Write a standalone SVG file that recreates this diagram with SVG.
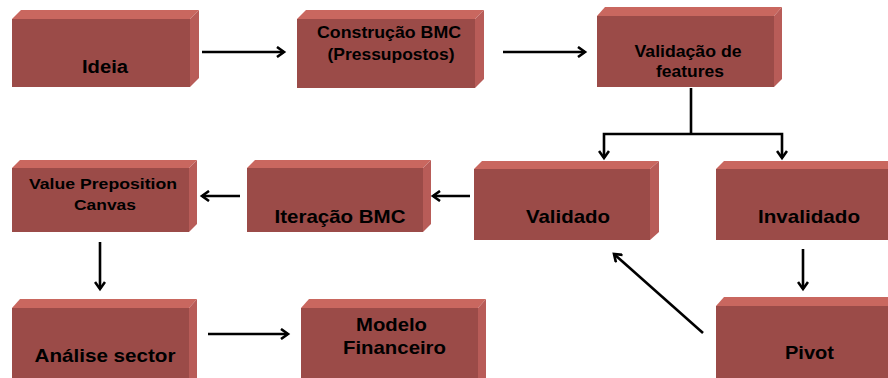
<svg xmlns="http://www.w3.org/2000/svg" width="888" height="378" viewBox="0 0 888 378">
<defs>
<style>
.front{fill:#9b4b48}
.top{fill:#c9675f}
.side{fill:#b85c58}
.t{font-family:"Liberation Sans",Arial,sans-serif;font-weight:bold;fill:#000;text-anchor:middle}
.c{fill:none;stroke:#000;stroke-width:2.6}
</style>
<marker id="ah" markerWidth="12" markerHeight="12" refX="9" refY="6" orient="auto" markerUnits="userSpaceOnUse">
<path d="M2,1 L9,6 L2,11" fill="none" stroke="#000" stroke-width="2.6"/>
</marker>
</defs>
<rect width="888" height="378" fill="#fff"/>

<g id="ideia">
<rect class="front" x="12" y="19" width="178" height="68"/>
<polygon class="top" points="12,19 21,10 199,10 190,19"/>
<polygon class="side" points="190,19 199,10 199,78 190,87"/>
<text class="t" x="105" y="73" font-size="18" textLength="46" lengthAdjust="spacingAndGlyphs">Ideia</text>
</g>

<g id="construcao">
<rect class="front" x="297" y="19" width="178" height="69"/>
<polygon class="top" points="297,19 306,10 484,10 475,19"/>
<polygon class="side" points="475,19 484,10 484,79 475,88"/>
<text class="t" x="389" y="38" font-size="16.5" textLength="144" lengthAdjust="spacingAndGlyphs">Construção BMC</text>
<text class="t" x="391" y="60" font-size="16.5" textLength="127" lengthAdjust="spacingAndGlyphs">(Pressupostos)</text>
</g>

<g id="validacao">
<rect class="front" x="597" y="16" width="177" height="71"/>
<polygon class="top" points="597,16 605,7 782,7 774,16"/>
<polygon class="side" points="774,16 782,7 782,79 774,87"/>
<text class="t" x="688" y="57" font-size="17" textLength="107" lengthAdjust="spacingAndGlyphs">Validação de</text>
<text class="t" x="690" y="77" font-size="17" textLength="68" lengthAdjust="spacingAndGlyphs">features</text>
</g>

<g id="value">
<rect class="front" x="12" y="168" width="177" height="64"/>
<polygon class="top" points="12,168 20,160 197,160 189,168"/>
<polygon class="side" points="189,168 197,160 197,224 189,232"/>
<text class="t" x="103" y="189" font-size="15.5" textLength="148" lengthAdjust="spacingAndGlyphs">Value Preposition</text>
<text class="t" x="105" y="210" font-size="15.5" textLength="62" lengthAdjust="spacingAndGlyphs">Canvas</text>
</g>

<g id="iteracao">
<rect class="front" x="247" y="168" width="176" height="64"/>
<polygon class="top" points="247,168 255,160 431,160 423,168"/>
<polygon class="side" points="423,168 431,160 431,224 423,232"/>
<text class="t" x="340" y="223" font-size="18.5" textLength="131" lengthAdjust="spacingAndGlyphs">Iteração BMC</text>
</g>

<g id="validado">
<rect class="front" x="474" y="169" width="176" height="71"/>
<polygon class="top" points="474,169 482,161 659,161 650,169"/>
<polygon class="side" points="650,169 659,161 659,232 650,240"/>
<text class="t" x="568" y="223" font-size="18.5" textLength="84" lengthAdjust="spacingAndGlyphs">Validado</text>
</g>

<g id="invalidado">
<rect class="front" x="716" y="169" width="180" height="71"/>
<polygon class="top" points="716,169 724,161 900,161 896,169"/>
<text class="t" x="809" y="223" font-size="18.5" textLength="102" lengthAdjust="spacingAndGlyphs">Invalidado</text>
</g>

<g id="pivot">
<rect class="front" x="716" y="306" width="180" height="80"/>
<polygon class="top" points="716,306 724,297 900,297 896,306"/>
<text class="t" x="809.5" y="359" font-size="18.5" textLength="49" lengthAdjust="spacingAndGlyphs">Pivot</text>
</g>

<g id="analise">
<rect class="front" x="12" y="308" width="177" height="70"/>
<polygon class="top" points="12,308 20,299 197,299 189,308"/>
<polygon class="side" points="189,308 197,299 197,378 189,378"/>
<text class="t" x="105" y="362" font-size="18.5" textLength="141" lengthAdjust="spacingAndGlyphs">Análise sector</text>
</g>

<g id="modelo">
<rect class="front" x="301" y="308" width="177" height="70"/>
<polygon class="top" points="301,308 309,299 486,299 478,308"/>
<polygon class="side" points="478,308 486,299 486,378 478,378"/>
<text class="t" x="391.5" y="331" font-size="18.5" textLength="71" lengthAdjust="spacingAndGlyphs">Modelo</text>
<text class="t" x="394.5" y="354" font-size="18.5" textLength="103" lengthAdjust="spacingAndGlyphs">Financeiro</text>
</g>

<g id="connectors">
<line class="c" x1="202" y1="52" x2="284" y2="52" marker-end="url(#ah)"/>
<line class="c" x1="503" y1="52" x2="585" y2="52" marker-end="url(#ah)"/>
<polyline class="c" points="691,88 691,134"/>
<polyline class="c" points="691,134 604,134 604,158" marker-end="url(#ah)"/>
<polyline class="c" points="691,134 782,134 782,158" marker-end="url(#ah)"/>
<line class="c" x1="470" y1="196" x2="433" y2="196" marker-end="url(#ah)"/>
<line class="c" x1="240" y1="196" x2="202" y2="196" marker-end="url(#ah)"/>
<line class="c" x1="100" y1="242" x2="100" y2="289" marker-end="url(#ah)"/>
<line class="c" x1="208" y1="334" x2="288" y2="334" marker-end="url(#ah)"/>
<line class="c" x1="803" y1="249" x2="803" y2="289" marker-end="url(#ah)"/>
<line class="c" x1="703" y1="333" x2="614" y2="254" marker-end="url(#ah)"/>
</g>
</svg>
